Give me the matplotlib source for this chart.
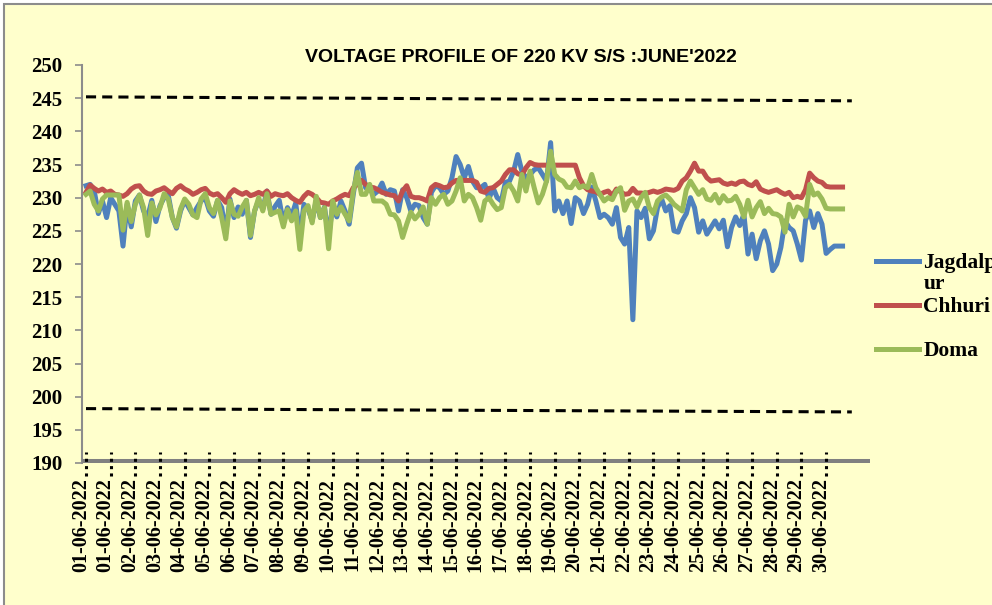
import matplotlib
matplotlib.use('Agg')
import matplotlib.pyplot as plt
from matplotlib.patches import Rectangle
from matplotlib.transforms import ScaledTranslation
import numpy as np

# 4-hourly readings (kV), 01-06-2022 .. 30-06-2022
jagdalpur = [
    231.8, 232.0, 231.0, 227.6, 229.5, 227.0,
    230.0, 229.0, 228.0, 222.7, 229.0, 225.6,
    229.5, 230.4, 228.0, 227.1, 229.6, 226.4,
    228.8, 230.0, 230.4, 227.0, 225.4, 228.0,
    229.6, 228.5, 227.4, 228.5, 229.5, 230.0,
    228.0, 227.2, 229.6, 228.5, 224.6, 229.8,
    227.0, 228.6, 227.5, 229.6, 224.0, 228.0,
    229.6, 228.3, 231.0, 227.5, 228.7, 229.6,
    226.2, 228.5, 227.2, 229.2, 224.0, 229.0,
    228.3, 226.5, 229.6, 227.0, 228.6, 224.0,
    229.0, 227.1, 229.5, 228.0, 226.0, 230.5,
    234.5, 235.2, 231.5, 231.2, 230.5, 231.0,
    232.2, 230.5, 231.2, 231.0, 228.0, 231.2,
    230.0, 228.0, 229.0, 228.8, 227.0, 226.0,
    230.8, 231.8, 231.5, 230.5, 231.0, 233.0,
    236.2, 235.0, 233.0, 234.7, 232.5, 231.5,
    231.5, 232.0, 229.8, 231.5, 230.0, 229.5,
    232.3, 232.5, 234.0, 236.5, 234.0, 233.0,
    233.5, 234.2, 234.5, 233.5, 232.5, 238.3,
    228.0, 229.5, 227.6, 229.5, 226.1, 230.0,
    229.5, 227.6, 229.0, 231.6, 229.5, 227.0,
    227.5, 227.0, 226.0, 228.5, 224.0, 223.0,
    225.5, 211.6, 228.0, 227.0, 228.4, 223.8,
    225.0, 228.5, 229.8, 228.0, 228.8, 225.0,
    224.8, 226.5, 227.6, 230.0, 228.5, 224.8,
    226.5, 224.5, 225.5, 226.5, 225.3, 226.6,
    222.6, 225.5, 227.1, 225.8, 227.5, 221.5,
    224.5, 220.8, 223.5, 225.0, 223.0, 219.0,
    220.0, 222.5, 226.5, 225.5, 225.0, 223.0,
    220.6, 226.6, 228.0, 225.5, 227.6, 226.0,
    221.6, 222.2, 222.7, 222.7, 222.7,
]

chhuri = [
    230.8, 231.9, 231.4, 231.0, 231.3, 230.8,
    231.0, 230.5, 230.4, 230.2, 230.6, 231.3,
    231.7, 231.8, 231.0, 230.6, 230.5, 231.0,
    231.2, 231.5, 231.0, 230.6, 231.4, 231.8,
    231.3, 231.0, 230.5, 230.8, 231.2, 231.4,
    230.7, 230.4, 230.6, 230.0, 229.3, 230.6,
    231.2, 230.8, 230.5, 230.8, 230.3, 230.5,
    230.8, 230.5, 231.0, 230.2, 230.6, 230.4,
    230.3, 230.6, 230.0, 229.6, 229.3, 230.2,
    230.8, 230.5, 230.0, 229.3, 229.2, 229.0,
    229.5, 229.8, 230.2, 230.5, 230.3, 231.5,
    232.0, 232.6, 232.0, 231.6, 231.5, 231.2,
    230.8, 230.6, 230.4, 230.3, 229.5, 231.0,
    231.8, 230.2, 230.0, 230.0, 229.8, 229.5,
    231.5, 232.0, 231.8, 231.5, 231.6, 232.2,
    232.6, 232.6, 232.6, 232.6, 232.6, 232.3,
    231.0, 230.8, 231.4, 231.5, 232.0, 232.5,
    233.5, 234.2, 234.2, 233.6, 233.4, 234.5,
    235.3, 235.0, 234.9, 234.9, 234.9, 234.9,
    234.9, 234.9, 234.9, 234.9, 234.9, 234.9,
    233.0, 231.8, 231.2, 231.0, 230.9, 230.5,
    230.8, 231.0, 230.3, 231.3, 230.9, 230.5,
    230.6, 231.4, 230.7, 230.7, 230.6, 230.8,
    231.0, 230.8, 231.0, 231.3, 231.2, 231.1,
    231.4, 232.5, 233.0, 234.0, 235.2, 234.0,
    234.0, 233.0, 232.5, 232.6, 232.7, 232.2,
    232.0, 232.2, 232.0, 232.4, 232.5, 232.0,
    231.8, 232.4, 231.3, 231.0, 230.8, 231.0,
    231.2, 230.8, 230.5, 230.8, 230.0, 230.2,
    230.0, 231.2, 233.7, 233.0, 232.5, 232.3,
    231.7, 231.6, 231.6, 231.6, 231.6,
]

doma = [
    230.5, 231.0, 229.0, 228.0, 229.8, 230.4,
    230.4, 230.4, 230.4, 225.1, 229.3, 226.4,
    229.0, 230.4, 228.5, 224.3, 229.2, 227.4,
    228.5, 230.6, 229.8, 227.0, 225.6, 228.3,
    229.8, 229.0, 227.4, 227.0, 229.8, 230.6,
    228.5, 227.6, 229.6, 227.0, 223.8, 229.5,
    227.5, 227.2, 228.6, 229.6, 224.3, 228.0,
    230.0, 228.0, 230.6, 227.5, 227.8, 228.0,
    225.6, 228.2, 226.5, 228.0, 222.2, 228.0,
    228.8, 226.2, 230.2, 227.0, 228.5, 222.3,
    229.5, 227.5, 228.6, 227.5, 226.5, 231.0,
    233.8, 230.5, 230.5, 232.0, 229.5, 229.5,
    229.5, 229.0, 227.5, 227.4, 226.5, 224.0,
    226.0, 227.8, 226.8, 227.5, 228.6, 226.0,
    230.0, 229.0, 230.0, 230.5, 229.0, 229.5,
    231.0, 233.0, 229.5, 230.5, 230.0, 228.5,
    226.6, 229.5, 230.0, 229.0, 228.2, 228.5,
    231.5, 232.0, 231.0, 229.5, 233.5, 231.0,
    234.0, 231.5, 229.2, 230.5, 232.5, 237.0,
    233.5, 232.8, 232.5, 231.6, 231.5, 232.5,
    231.5, 231.8, 231.5, 233.5, 231.5, 230.5,
    229.5, 230.0, 229.7, 231.0, 231.5, 228.1,
    229.5, 229.8, 228.6, 230.0, 230.8, 228.5,
    227.6, 229.5, 230.1, 230.4, 229.8, 229.0,
    228.5, 228.0, 231.2, 232.5, 231.5, 230.5,
    231.2, 229.8, 229.6, 230.5, 229.2, 230.3,
    229.5, 229.6, 230.2, 229.0, 227.1, 229.6,
    227.1, 228.5, 229.4, 227.6, 228.4, 227.6,
    227.5, 227.1, 224.8, 229.0, 227.1, 228.6,
    228.3, 227.2, 232.0, 230.4, 230.7, 229.8,
    228.4, 228.3, 228.3, 228.3, 228.3,
]

tick_labels = ['01-06-2022'] + [f'{d:02d}-06-2022' for d in range(1, 31)]

# permissible band (dashed lines)
limit_hours = [0, 745]
upper_limit = [245.2, 244.6]
lower_limit = [198.2, 197.7]

step = 4  # hours between readings
hours = np.arange(len(jagdalpur)) * step
tick_pos = np.arange(len(tick_labels)) * 24

serif = ['Liberation Serif', 'DejaVu Serif']
bg = '#FFFFCC'

fig = plt.figure(figsize=(9.92, 6.05), dpi=100, facecolor='white')
fig.patches.append(Rectangle((4 / 992, -0.1), 1.1, 1.1 - 4 / 605, transform=fig.transFigure,
                             facecolor=bg, edgecolor='#8c8c8c', linewidth=1.5, zorder=-10))
ax = fig.add_axes([82 / 992, (605 - 463) / 605, (870 - 82) / 992, (463 - 65) / 605])
ax.patch.set_alpha(0)

ax.plot(hours, jagdalpur, color='#4F81BD', lw=3.6, label='Jagdalp', solid_joinstyle='round')
ax.plot(hours, chhuri, color='#C0504D', lw=3.6, label='Chhuri', solid_joinstyle='round')
ax.plot(hours, doma, color='#9BBB59', lw=3.6, label='Doma', solid_joinstyle='round')

ax.plot(limit_hours, upper_limit, color='black', lw=2.2, ls=(0, (3.3, 2)))
ax.plot(limit_hours, lower_limit, color='black', lw=2.2, ls=(0, (3.3, 2)))

ax.set_xlim(-3.9, 762.7)
ax.set_ylim(190, 250)
ax.set_yticks(np.arange(190, 251, 5))

for s in ['top', 'right', 'bottom']:
    ax.spines[s].set_visible(False)
ax.spines['left'].set_color('#8c8c8c')
ax.spines['left'].set_linewidth(1.5)

ax.axhline(190, color='#808080', lw=6.5, zorder=3, solid_capstyle='butt')
ax.vlines(tick_pos, 188.0, 191.7, colors='black', linestyles=(0, (1, 1.4)), lw=2.2,
          clip_on=False, zorder=4)

ax.set_xticks(tick_pos)
ax.set_xticklabels(tick_labels, rotation=90, family=serif, fontweight='bold', fontsize=14.5)
ax.tick_params(axis='x', length=0, pad=11)
ax.tick_params(axis='y', length=5, width=1.2, color='#8c8c8c', pad=9)
for lab in ax.get_yticklabels():
    lab.set_family(serif)
    lab.set_fontweight('bold')
    lab.set_fontsize(15)
for lab in ax.get_xticklabels():
    lab.set_transform(lab.get_transform() + ScaledTranslation(-5 / 100, 0, fig.dpi_scale_trans))

fig.text(521 / 992, 1 - 57 / 605, "VOLTAGE PROFILE OF 220 KV S/S :JUNE'2022",
         family=['Liberation Sans Narrow', 'Liberation Sans'], fontweight='bold', fontsize=14,
         ha='center', va='center')

leg = fig.legend(loc='upper left', bbox_to_anchor=(876 / 992, 1 - 253 / 605), frameon=False,
                 prop={'family': serif, 'weight': 'bold', 'size': 15.5}, handlelength=2.0,
                 handletextpad=0.2, labelspacing=1.12, borderpad=0, borderaxespad=0)
# the long name wraps onto a second line in the original legend
fig.text(924 / 992, 1 - 284 / 605, 'ur', family=serif, fontweight='bold', fontsize=15.5,
         ha='left', va='center')

plt.savefig('out.png', dpi=100, facecolor='white')
